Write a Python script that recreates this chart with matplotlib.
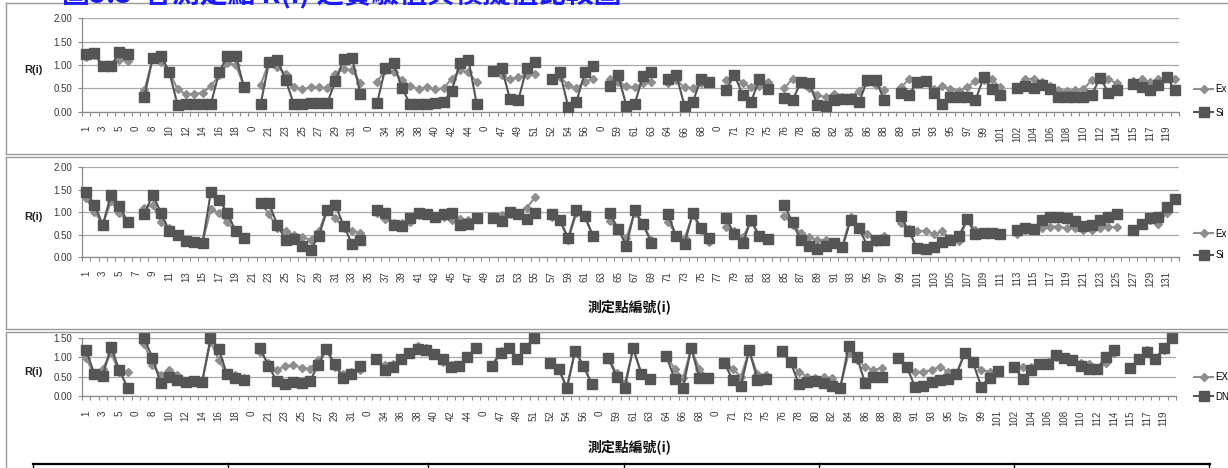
import numpy as np
import matplotlib
matplotlib.use("Agg")
import matplotlib.pyplot as plt
from matplotlib.lines import Line2D

plt.rcParams['font.family'] = ['Liberation Sans', 'Noto Sans CJK TC', 'DejaVu Sans']

W, H = 1228, 468
N = None

# category labels of panel 1 and 3 (0 = separator row)
labels_ac = [1, 2, 3, 4, 5, 6, 0, 7, 8, 9, 10, 11, 12, 13, 14, 15, 16, 17, 18, 19, 0,
             20, 21, 22, 23, 24, 25, 26, 27, 28, 29, 30, 31, 32, 0,
             33, 34, 35, 36, 37, 38, 39, 40, 41, 42, 43, 44, 45, 0,
             46, 47, 48, 49, 50, 51, 0, 52, 53, 54, 55, 56, 57, 0,
             58, 59, 60, 61, 62, 63, 0, 64, 65, 66, 67, 68, 69, 0,
             70, 71, 72, 73, 74, 75, 0,
             76, 77, 78, 79, 80, 81, 82, 83, 84, 85, 86, 87, 88, 0,
             89, 90, 91, 92, 93, 94, 95, 96, 97, 98, 99, 100, 101, 0,
             102, 103, 104, 105, 106, 107, 108, 109, 110, 111, 112, 113, 114, 0,
             115, 116, 117, 118, 119, 120]
labels_b = list(range(1, 133))

# panel 1
exp_a = [1.18, 1.21, 0.97, 0.97, 1.11, 1.09, N,
         0.46, 1.12, 1.07, 0.86, 0.48, 0.37, 0.38, 0.41, 0.54, 0.79, 1.04, 1.00, 0.55, N,
         0.57, 1.07, 0.96, 0.81, 0.52, 0.48, 0.52, 0.52, 0.50, 0.81, 0.91, 0.89, 0.62, N,
         0.64, 0.89, 0.86, 0.68, 0.55, 0.48, 0.52, 0.48, 0.50, 0.71, 0.89, 0.84, 0.64, N,
         0.87, 0.79, 0.69, 0.74, 0.79, 0.81, N,
         0.71, 0.74, 0.57, 0.50, 0.64, 0.71, N,
         0.69, 0.64, 0.54, 0.52, 0.61, 0.64, N,
         0.61, 0.68, 0.52, 0.50, 0.62, 0.64, N,
         0.68, 0.79, 0.61, 0.52, 0.55, 0.64, N,
         0.50, 0.71, 0.66, 0.50, 0.36, 0.31, 0.38, 0.32, 0.32, 0.45, 0.64, 0.57, 0.46, N,
         0.52, 0.69, 0.64, 0.64, 0.48, 0.55, 0.48, 0.45, 0.52, 0.66, 0.68, 0.69, 0.52, N,
         0.50, 0.69, 0.71, 0.64, 0.55, 0.46, 0.45, 0.46, 0.48, 0.68, 0.72, 0.69, 0.61, N,
         0.66, 0.69, 0.64, 0.69, 0.72, 0.69]
sim_a = [1.23, 1.26, 0.98, 0.98, 1.28, 1.23, N,
         0.31, 1.16, 1.19, 0.86, 0.14, 0.16, 0.17, 0.16, 0.16, 0.84, 1.20, 1.20, 0.52, N,
         0.16, 1.07, 1.11, 0.68, 0.16, 0.17, 0.19, 0.18, 0.18, 0.66, 1.13, 1.15, 0.38, N,
         0.18, 0.93, 1.04, 0.50, 0.16, 0.16, 0.16, 0.18, 0.21, 0.45, 1.05, 1.11, 0.16, N,
         0.87, 0.94, 0.27, 0.24, 0.94, 1.07, N,
         0.71, 0.84, 0.11, 0.21, 0.84, 0.98, N,
         0.55, 0.79, 0.13, 0.16, 0.76, 0.86, N,
         0.69, 0.79, 0.13, 0.21, 0.71, 0.64, N,
         0.46, 0.79, 0.36, 0.21, 0.69, 0.48, N,
         0.30, 0.24, 0.64, 0.61, 0.14, 0.12, 0.24, 0.27, 0.27, 0.20, 0.68, 0.68, 0.26, N,
         0.41, 0.36, 0.64, 0.66, 0.39, 0.16, 0.32, 0.32, 0.31, 0.24, 0.74, 0.48, 0.36, N,
         0.50, 0.55, 0.50, 0.57, 0.48, 0.31, 0.31, 0.32, 0.31, 0.36, 0.73, 0.41, 0.46, N,
         0.59, 0.52, 0.46, 0.57, 0.75, 0.46]

# panel 2
exp_b = [1.31, 1.01, 0.72, 1.24, 0.99, 0.78, N,
         1.09, 1.16, 0.77, 0.64, 0.50, 0.37, 0.34, 0.31, 1.07, 0.98, 0.77, 0.57, 0.42, N,
         1.20, 0.96, 0.64, 0.59, 0.49, 0.44, 0.38, 0.57, 1.07, 0.87, 0.64, 0.58, 0.53, N,
         0.98, 0.84, 0.75, 0.75, 0.79, 0.94, 0.94, 0.89, 0.90, 0.83, 0.84, 0.83, 0.84, N,
         0.92, 0.94, 0.96, 0.96, 1.09, 1.33, N,
         0.90, 0.83, 0.38, 0.99, 0.89, 0.46, N,
         0.81, 0.64, 0.42, 0.99, 0.72, 0.38, N,
         0.79, 0.49, 0.42, 0.94, 0.60, 0.34, N,
         0.68, 0.57, 0.44, 0.79, 0.47, 0.40, N,
         0.92, 0.72, 0.53, 0.44, 0.38, 0.38, 0.34, 0.25, 0.90, 0.64, 0.51, 0.34, 0.47, N,
         0.75, 0.62, 0.57, 0.59, 0.51, 0.57, 0.42, 0.36, 0.84, 0.60, 0.51, 0.54, 0.49, N,
         0.51, 0.60, 0.60, 0.64, 0.68, 0.68, 0.64, 0.64, 0.60, 0.60, 0.64, 0.68, 0.66, N,
         0.60, 0.72, 0.83, 0.74, 0.98, 1.28]
sim_b = [1.46, 1.16, 0.72, 1.39, 1.14, 0.78, N,
         0.96, 1.39, 0.99, 0.58, 0.48, 0.36, 0.34, 0.31, 1.44, 1.28, 0.98, 0.57, 0.42, N,
         1.20, 1.20, 0.72, 0.38, 0.40, 0.25, 0.16, 0.47, 1.05, 1.16, 0.69, 0.29, 0.38, N,
         1.04, 0.99, 0.72, 0.69, 0.87, 0.99, 0.96, 0.90, 0.96, 0.98, 0.72, 0.73, 0.87, N,
         0.88, 0.81, 1.00, 0.96, 0.84, 0.99, N,
         0.96, 0.83, 0.42, 1.04, 0.92, 0.46, N,
         0.98, 0.63, 0.25, 1.04, 0.74, 0.32, N,
         0.96, 0.46, 0.29, 0.98, 0.64, 0.42, N,
         0.87, 0.51, 0.31, 0.83, 0.47, 0.40, N,
         1.16, 0.77, 0.37, 0.25, 0.17, 0.25, 0.31, 0.22, 0.83, 0.64, 0.25, 0.38, 0.38, N,
         0.92, 0.58, 0.19, 0.17, 0.22, 0.34, 0.38, 0.46, 0.84, 0.51, 0.54, 0.54, 0.51, N,
         0.60, 0.64, 0.62, 0.83, 0.90, 0.90, 0.87, 0.81, 0.69, 0.72, 0.83, 0.90, 0.96, N,
         0.60, 0.73, 0.87, 0.90, 1.11, 1.29]

# panel 3
exp_c = [0.97, 0.54, 0.71, 1.10, 0.63, 0.63, N,
         1.35, 0.80, 0.54, 0.67, 0.54, 0.40, 0.39, 0.38, 1.40, 0.93, 0.56, 0.54, 0.48, N,
         1.14, 0.84, 0.67, 0.78, 0.80, 0.73, 0.70, 0.93, 1.18, 0.76, 0.56, 0.63, 0.67, N,
         0.93, 0.80, 0.82, 0.93, 1.14, 1.29, 1.24, 1.12, 0.89, 0.80, 0.80, 0.97, 1.20, N,
         0.80, 1.16, 1.24, 0.95, 1.22, 1.48, N,
         0.84, 0.71, 0.24, 1.16, 0.80, 0.33, N,
         0.97, 0.59, 0.33, 1.20, 0.60, 0.46, N,
         1.04, 0.71, 0.46, 1.20, 0.71, 0.48, N,
         0.89, 0.70, 0.50, 1.16, 0.56, 0.54, N,
         1.14, 0.84, 0.63, 0.50, 0.48, 0.50, 0.46, 0.25, 1.10, 0.93, 0.76, 0.67, 0.73, N,
         0.97, 0.76, 0.63, 0.63, 0.67, 0.76, 0.63, 0.58, 1.10, 0.87, 0.67, 0.63, 0.65, N,
         0.76, 0.76, 0.76, 0.82, 0.89, 1.01, 0.99, 0.93, 0.84, 0.82, 0.71, 0.84, 1.10, N,
         0.73, 0.95, 1.18, 0.97, 1.18, 1.48]
dnn_c = [1.18, 0.56, 0.53, 1.27, 0.67, 0.22, N,
         1.48, 0.99, 0.33, 0.50, 0.42, 0.37, 0.39, 0.37, 1.48, 1.21, 0.56, 0.46, 0.42, N,
         1.23, 0.78, 0.39, 0.31, 0.36, 0.33, 0.39, 0.80, 1.21, 0.82, 0.46, 0.56, 0.78, N,
         0.95, 0.67, 0.76, 0.95, 1.12, 1.21, 1.18, 1.07, 0.95, 0.76, 0.78, 1.01, 1.23, N,
         0.78, 1.12, 1.24, 0.95, 1.24, 1.48, N,
         0.84, 0.71, 0.20, 1.16, 0.78, 0.31, N,
         0.99, 0.50, 0.22, 1.24, 0.56, 0.44, N,
         1.04, 0.44, 0.20, 1.24, 0.46, 0.46, N,
         0.86, 0.42, 0.27, 1.18, 0.42, 0.44, N,
         1.16, 0.87, 0.31, 0.37, 0.39, 0.33, 0.27, 0.22, 1.29, 1.01, 0.33, 0.50, 0.50, N,
         0.97, 0.76, 0.25, 0.27, 0.36, 0.42, 0.44, 0.56, 1.10, 0.87, 0.25, 0.48, 0.65, N,
         0.76, 0.44, 0.67, 0.82, 0.82, 1.06, 0.99, 0.93, 0.78, 0.70, 0.71, 1.01, 1.18, N,
         0.73, 0.95, 1.14, 0.95, 1.24, 1.48]

C_EXP = '#8e8e8e'
C_SIM = '#555555'
C_GRID = '#a8a8a8'
C_AX = '#8a8a8a'


def fx(x):
    return x / W


def fy(y):
    return 1 - y / H


fig = plt.figure(figsize=(W / 100, H / 100), dpi=100)


def hline(y, x0, x1, color='#9a9a9a', lw=1.0):
    fig.add_artist(Line2D([fx(x0), fx(x1)], [fy(y), fy(y)], color=color, lw=lw))


def vline(x, y0, y1, color='#9a9a9a', lw=1.0):
    fig.add_artist(Line2D([fx(x), fx(x)], [fy(y0), fy(y1)], color=color, lw=lw))


# panel frames
hline(3, 6, 1240); hline(154, 6, 1240); vline(6, 3, 154)
hline(157, 6, 1240); hline(329, 6, 1240); vline(6, 157, 329)
hline(332, 6, 1240); vline(6, 332, 470)

# table at the bottom
hline(463.5, 33, 1210, color='black', lw=1.6)
for xt in [33, 228, 428, 624, 819, 1014, 1209]:
    vline(xt, 463, 470, color='black', lw=1.0)

# caption cut off at the top edge
fig.text(fx(62), fy(2), '圖5.3  各測定點 R(i) 之實驗值與模擬值比較圖', color='#1a1aff',
         fontsize=20, fontweight='bold', va='baseline', ha='left',
         family=['Noto Sans CJK TC', 'DejaVu Sans'])

panels = [
    dict(top=18.3, bot=111.7, right=1179, ymax=2.0, a=exp_a, b=sim_a, lab=labels_ac,
         names=['Ex', 'Si'], leg=101, ls=1.35, xlabel=None),
    dict(top=167.3, bot=257, right=1179, ymax=2.0, a=exp_b, b=sim_b, lab=labels_b,
         names=['Ex', 'Si'], leg=244.5, ls=1.2, xlabel=308),
    dict(top=337.7, bot=396.3, right=1176, ymax=1.5, a=exp_c, b=dnn_c, lab=labels_ac,
         names=['EX', 'DN'], leg=387, ls=0.95, xlabel=448),
]

x = np.arange(132)
for p in panels:
    ax = fig.add_axes([fx(82), fy(p['bot']), fx(p['right'] - 82), (p['bot'] - p['top']) / H])
    ya = np.array(p['a'], dtype=float)
    yb = np.array(p['b'], dtype=float)
    h1, = ax.plot(x, ya, color=C_EXP, lw=1.5, marker='D', ms=4.3, mec=C_EXP, mfc=C_EXP,
                  clip_on=False, zorder=3)
    h2, = ax.plot(x, yb, color=C_SIM, lw=1.5, marker='s', ms=6.5, mec=C_SIM, mfc=C_SIM,
                  clip_on=False, zorder=4)
    ax.set_xlim(-0.5, 131.5)
    ax.set_ylim(0, p['ymax'])
    ax.set_yticks(np.arange(0, p['ymax'] + 0.01, 0.5))
    ax.yaxis.set_major_formatter('{x:.2f}')
    ax.grid(axis='y', color=C_GRID, lw=0.9)
    ax.set_axisbelow(True)
    for s in ['top', 'right']:
        ax.spines[s].set_visible(False)
    for s in ['left', 'bottom']:
        ax.spines[s].set_color(C_AX)
        ax.spines[s].set_linewidth(0.9)
    ax.set_xticks(np.arange(-0.5, 132, 1))
    ax.set_xticklabels([])
    ax.set_xticks(x[::2], [str(v) for v in p['lab'][::2]], minor=True)
    ax.tick_params(axis='x', which='major', length=3, width=0.8, color=C_AX)
    ax.tick_params(axis='x', which='minor', length=0, pad=10, labelsize=7,
                   labelrotation=90, labelcolor='#3a3a3a')
    ax.tick_params(axis='y', length=3, width=0.8, color=C_AX, pad=4, labelsize=7,
                   labelcolor='#3a3a3a')
    fig.text(fx(33), fy((p['top'] + p['bot']) / 2 + 5), 'R(i)', fontsize=8, fontweight='bold',
             ha='center', va='center', color='#222222')
    if p['xlabel']:
        fig.text(fx(630), fy(p['xlabel']), '測定點編號(i)', fontsize=10, fontweight='bold',
                 ha='center', va='center', color='#111111',
                 family=['Noto Sans CJK TC', 'DejaVu Sans'])
    ax.legend([h1, h2], p['names'], loc='center left',
              bbox_to_anchor=(fx(1194), fy(p['leg'])), bbox_transform=fig.transFigure,
              frameon=False, fontsize=7, handlelength=2.0, handletextpad=0.2,
              labelspacing=p['ls'], borderpad=0, borderaxespad=0)

fig.savefig('out.png', dpi=100)
